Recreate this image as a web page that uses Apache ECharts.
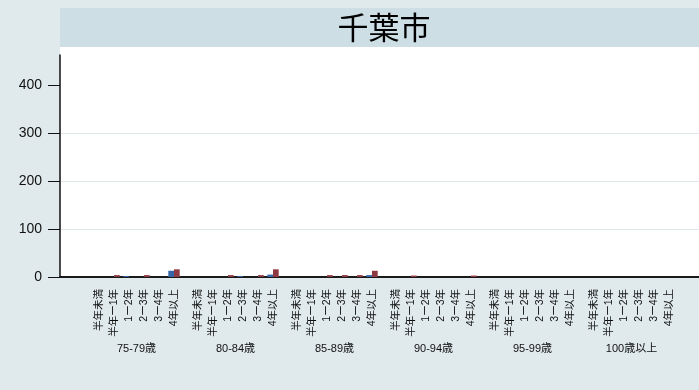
<!DOCTYPE html>
<html><head><meta charset="utf-8">
<script src="https://cdn.jsdelivr.net/npm/echarts@6/dist/echarts.min.js"></script>
<style>html,body{margin:0;padding:0;background:#e0eaec}#c{width:699px;height:390px}</style>
</head><body><div id="c"></div>
<script>
const chartTitle = '千葉市';
const ageGroups = ['75-79歳', '80-84歳', '85-89歳', '90-94歳', '95-99歳', '100歳以上'];
const periods = ['半年未満', '半年ー1年', '1ー2年', '2ー3年', '3ー4年', '4年以上'];
const blueValues = [
  [0, 0, 2, 0, 0, 13],
  [0, 0, 0, 2, 0, 5],
  [0, 0, 0, 0, 0, 4],
  [0, 0, 0, 0, 0, 0],
  [0, 0, 0, 0, 0, 0],
  [0, 0, 0, 0, 0, 0]
];
const redValues = [
  [0, 4, 0, 4, 0, 16],
  [0, 0, 4, 0, 4, 16],
  [0, 0, 4, 4, 4, 13],
  [0, 3, 0, 0, 0, 3],
  [0, 0, 0, 0, 0, 0],
  [0, 0, 0, 0, 0, 0]
];
const yTickMax = 400;
const yTickStep = 100;

const FONT = '"Liberation Sans", "Noto Sans CJK JP", sans-serif';
const BLUE = '#3566aa', RED = '#8f3a42';
const plotLeft = 60, axisY = 277, tick400Y = 85, axisTop = 55, whiteTop = 47, W = 699, H = 390;
const bottom = H - axisY;
const axisMax = yTickMax * (axisY - axisTop) / (axisY - tick400Y);

const grids = [
  { left: plotLeft, right: 0, top: whiteTop, bottom: bottom, show: true, backgroundColor: '#ffffff', borderWidth: 0, containLabel: false },
  { left: plotLeft, right: 0, top: axisTop, bottom: bottom, show: false, containLabel: false },
  { left: plotLeft, right: 0, top: tick400Y, bottom: bottom, show: false, containLabel: false }
];
const xAxes = [
  { gridIndex: 0, type: 'value', min: 0, max: 1, axisLine: { show: true, onZero: false, lineStyle: { color: '#1a1a1a', width: 2 } }, axisTick: { show: false }, axisLabel: { show: false }, splitLine: { show: false } },
  { gridIndex: 1, type: 'value', show: false, min: 0, max: 1 },
  { gridIndex: 2, type: 'value', show: false, min: 0, max: 1 }
];
const yAxes = [
  { gridIndex: 0, type: 'value', show: false, min: 0, max: 1 },
  { gridIndex: 1, type: 'value', min: 0, max: axisMax, axisLine: { show: true, lineStyle: { color: '#111', width: 1.5 } }, axisTick: { show: false }, axisLabel: { show: false }, splitLine: { show: false } },
  { gridIndex: 2, type: 'value', min: 0, max: yTickMax, interval: yTickStep,
    axisLine: { show: false }, axisTick: { show: true, length: 12, lineStyle: { color: '#111', width: 1 } },
    axisLabel: { fontSize: 14, color: '#111', margin: 18, fontFamily: FONT },
    splitLine: { show: true, lineStyle: { color: ['rgba(0,0,0,0)', '#dde8eb', '#dde8eb', '#dde8eb', 'rgba(0,0,0,0)'], width: 1.2 } } }
];
const series = [];
const groupPitch = 99, groupLeft = 91.5, groupWidth = 90, firstGroupGrid = 3;
ageGroups.forEach((g, i) => {
  const k = firstGroupGrid + i;
  grids.push({ left: groupLeft + groupPitch * i, width: groupWidth, top: tick400Y, bottom: bottom, show: false, containLabel: false });
  xAxes.push({ gridIndex: k, type: 'category', data: periods,
    axisLine: { show: false }, axisTick: { show: false },
    axisLabel: { interval: 0, rotate: 90, fontSize: 10.5, color: '#111', margin: 12, fontFamily: FONT },
    name: g, nameLocation: 'middle', nameGap: 66,
    nameTextStyle: { fontSize: 11, color: '#111', fontFamily: FONT } });
  yAxes.push({ gridIndex: k, type: 'value', min: 0, max: yTickMax, show: false });
  series.push({ type: 'bar', name: '系列1', xAxisIndex: k, yAxisIndex: k, data: blueValues[i], barWidth: '38%', barGap: '0%', itemStyle: { color: BLUE }, silent: true, z: 5 });
  series.push({ type: 'bar', name: '系列2', xAxisIndex: k, yAxisIndex: k, data: redValues[i], barWidth: '38%', barGap: '0%', itemStyle: { color: RED }, silent: true, z: 5 });
});

const chart = echarts.init(document.getElementById('c'), null, { renderer: 'canvas' });
chart.setOption({
  backgroundColor: '#e0eaec',
  animation: false,
  graphic: [
    { type: 'rect', z: -1, shape: { x: plotLeft, y: 8, width: W - plotLeft, height: 39 }, style: { fill: '#cddee5' } },
    { type: 'text', z: 100, x: 384, y: 27, style: { text: chartTitle, fontSize: 31, fill: '#000', fontFamily: '"Noto Sans CJK JP", sans-serif', align: 'center', verticalAlign: 'middle' } }
  ],
  grid: grids, xAxis: xAxes, yAxis: yAxes, series: series
});
</script></body></html>
